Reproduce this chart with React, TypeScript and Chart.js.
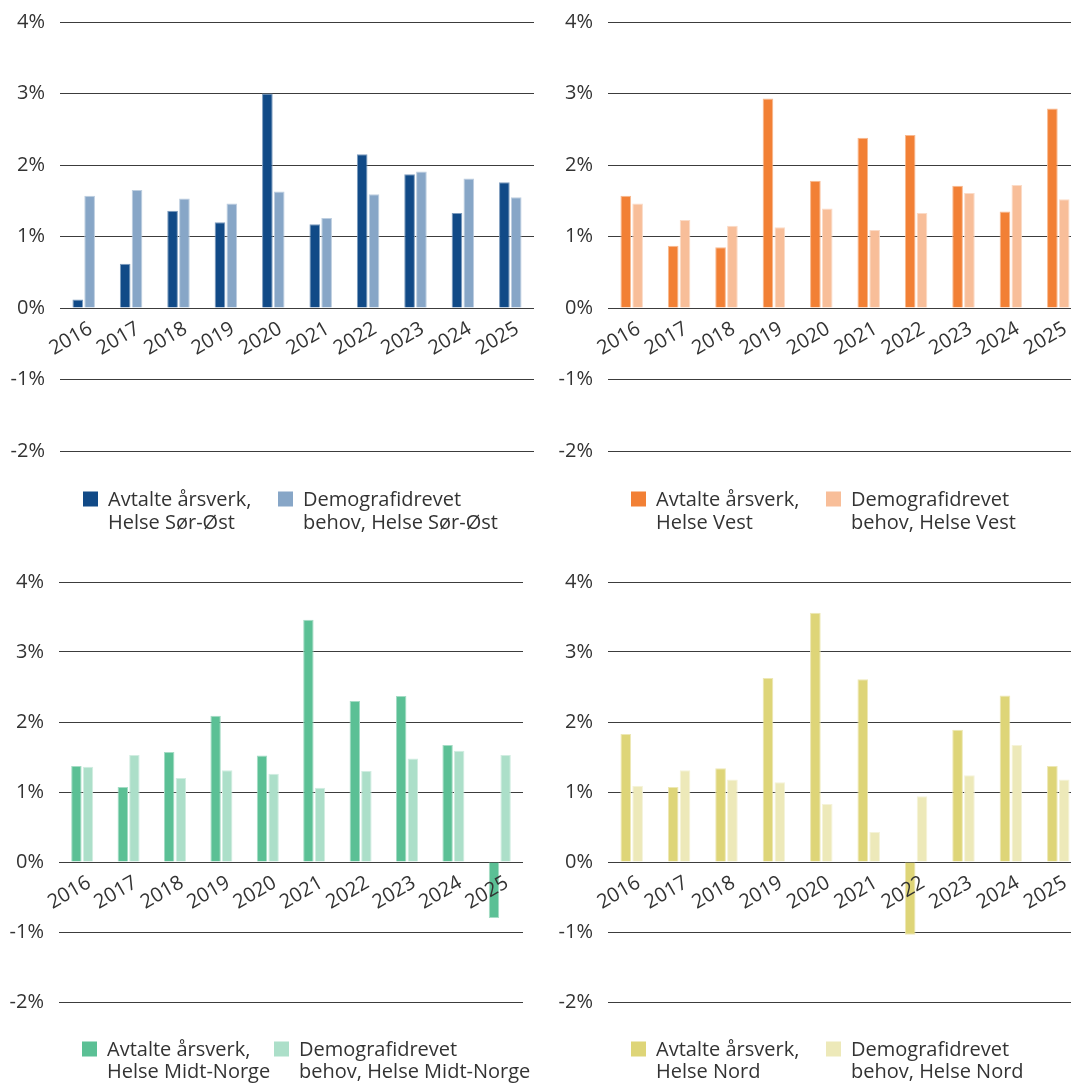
import React, { useEffect, useRef } from 'react';
import { Chart, registerables } from 'chart.js';

Chart.register(...registerables);
Chart.defaults.font.family = '"Open Sans", "DejaVu Sans", sans-serif';

// ---------- data ----------
const years = ['2016', '2017', '2018', '2019', '2020', '2021', '2022', '2023', '2024', '2025'];
const yMin = -2;
const yMax = 4;

const sorOstAvtalte = [0.12, 0.62, 1.36, 1.2, 3.0, 1.17, 2.15, 1.87, 1.33, 1.76];
const sorOstDemografi = [1.57, 1.65, 1.53, 1.46, 1.63, 1.26, 1.59, 1.91, 1.81, 1.55];

const vestAvtalte = [1.57, 0.87, 0.85, 2.93, 1.78, 2.38, 2.42, 1.71, 1.35, 2.79];
const vestDemografi = [1.46, 1.23, 1.15, 1.13, 1.39, 1.09, 1.33, 1.61, 1.72, 1.52];

const midtAvtalte = [1.37, 1.07, 1.57, 2.09, 1.52, 3.46, 2.3, 2.37, 1.67, -0.8];
const midtDemografi = [1.36, 1.53, 1.2, 1.31, 1.26, 1.06, 1.3, 1.48, 1.59, 1.53];

const nordAvtalte = [1.83, 1.07, 1.34, 2.63, 3.56, 2.61, -1.04, 1.89, 2.38, 1.37];
const nordDemografi = [1.09, 1.31, 1.18, 1.14, 0.83, 0.43, 0.94, 1.24, 1.67, 1.18];

const legendSorOst = [['Avtalte årsverk,', 'Helse Sør-Øst'], ['Demografidrevet', 'behov, Helse Sør-Øst']];
const legendVest = [['Avtalte årsverk,', 'Helse Vest'], ['Demografidrevet', 'behov, Helse Vest']];
const legendMidt = [['Avtalte årsverk,', 'Helse Midt-Norge'], ['Demografidrevet', 'behov, Helse Midt-Norge']];
const legendNord = [['Avtalte årsverk,', 'Helse Nord'], ['Demografidrevet', 'behov, Helse Nord']];

const TEXT = '#333333';
const GRID = '#3c3c3c';
const FONT = '"Open Sans", "DejaVu Sans", sans-serif';

function tint(hex: string, t: number): string {
  const n = parseInt(hex.slice(1), 16);
  const r = (n >> 16) & 255;
  const g = (n >> 8) & 255;
  const b = n & 255;
  const m = (c: number) => Math.round(c + (255 - c) * t);
  return `rgb(${m(r)}, ${m(g)}, ${m(b)})`;
}

type PanelProps = {
  left: number;
  top: number;
  width: number;
  height: number;
  padding: { left: number; right: number; top: number; bottom: number };
  dark: number[];
  light: number[];
  darkColor: string;
  lightColor: string;
  legend: string[][];
  legendCol: number;
  legendLine: number;
  legendOffset: number;
};

function Panel(p: PanelProps) {
  const ref = useRef<HTMLCanvasElement>(null);
  useEffect(() => {
    const legendPlugin = {
      id: 'twoLineLegend',
      afterDraw(chart: any) {
        const { ctx, chartArea } = chart;
        ctx.save();
        ctx.font = `20px ${FONT}`;
        ctx.textBaseline = 'middle';
        ctx.textAlign = 'left';
        chart.data.datasets.forEach((ds: any, i: number) => {
          const x = chartArea.left + 23 + i * p.legendCol;
          const y = chartArea.bottom + p.legendOffset;
          ctx.fillStyle = ds.backgroundColor;
          ctx.fillRect(x, y - 8.5, 15, 15);
          ctx.fillStyle = TEXT;
          p.legend[i].forEach((line, j) => {
            ctx.fillText(line, x + 25, y + j * p.legendLine);
          });
        });
        ctx.restore();
      },
    };
    const chart = new Chart(ref.current as HTMLCanvasElement, {
      type: 'bar',
      data: {
        labels: years,
        datasets: [
          {
            label: p.legend[0].join(' '),
            data: p.dark,
            backgroundColor: p.darkColor,
            borderColor: tint(p.darkColor, 0.45),
            borderWidth: 1,
            categoryPercentage: 0.5,
            barPercentage: 0.9,
          },
          {
            label: p.legend[1].join(' '),
            data: p.light,
            backgroundColor: p.lightColor,
            borderColor: tint(p.lightColor, 0.45),
            borderWidth: 1,
            categoryPercentage: 0.5,
            barPercentage: 0.9,
          },
        ],
      },
      options: {
        animation: false,
        responsive: false,
        maintainAspectRatio: false,
        layout: { padding: p.padding },
        plugins: {
          legend: { display: false },
          tooltip: { enabled: false },
        },
        scales: {
          x: {
            position: { y: 0 } as any,
            grid: { display: false, drawTicks: false },
            border: { display: false },
            ticks: {
              z: 1,
              color: TEXT,
              font: { size: 20 },
              minRotation: 30,
              maxRotation: 30,
              autoSkip: false,
              padding: 9,
              labelOffset: 7,
            },
          },
          y: {
            min: yMin,
            max: yMax,
            grid: { color: GRID, lineWidth: 1, drawTicks: false },
            border: { display: false },
            ticks: {
              stepSize: 1,
              color: TEXT,
              font: { size: 20 },
              padding: 15,
              callback: (v: any) => `${v}%`,
            },
            afterFit: (scale: any) => {
              scale.width = 50;
              scale.paddingTop = 0;
              scale.paddingBottom = 0;
            },
          },
        },
      },
      plugins: [legendPlugin],
    } as any);
    return () => chart.destroy();
  }, []);
  return (
    <canvas
      ref={ref}
      width={p.width}
      height={p.height}
      style={{ position: 'absolute', left: p.left, top: p.top, width: p.width, height: p.height }}
    />
  );
}

export default function App() {
  return (
    <div
      style={{
        position: 'absolute',
        left: 0,
        top: 0,
        width: 1071,
        height: 1083,
        overflow: 'hidden',
        background: '#ffffff',
      }}
    >
      <Panel
        left={0}
        top={0}
        width={540}
        height={560}
        padding={{ left: 10, right: 6, top: 22, bottom: 109 }}
        dark={sorOstAvtalte}
        light={sorOstDemografi}
        darkColor="#114a87"
        lightColor="#87a6c7"
        legend={legendSorOst}
        legendCol={195}
        legendLine={23.5}
        legendOffset={49}
      />
      <Panel
        left={548}
        top={0}
        width={540}
        height={560}
        padding={{ left: 10, right: 6, top: 22, bottom: 109 }}
        dark={vestAvtalte}
        light={vestDemografi}
        darkColor="#f28035"
        lightColor="#f8be99"
        legend={legendVest}
        legendCol={195}
        legendLine={23.5}
        legendOffset={49}
      />
      <Panel
        left={0}
        top={560}
        width={540}
        height={523}
        padding={{ left: 9, right: 17, top: 22, bottom: 81 }}
        dark={midtAvtalte}
        light={midtDemografi}
        darkColor="#5bc095"
        lightColor="#acdfc9"
        legend={legendMidt}
        legendCol={192}
        legendLine={22.7}
        legendOffset={48}
      />
      <Panel
        left={548}
        top={560}
        width={540}
        height={523}
        padding={{ left: 10, right: 6, top: 22, bottom: 81 }}
        dark={nordAvtalte}
        light={nordDemografi}
        darkColor="#ded578"
        lightColor="#ede9b9"
        legend={legendNord}
        legendCol={195}
        legendLine={22.7}
        legendOffset={48}
      />
    </div>
  );
}
